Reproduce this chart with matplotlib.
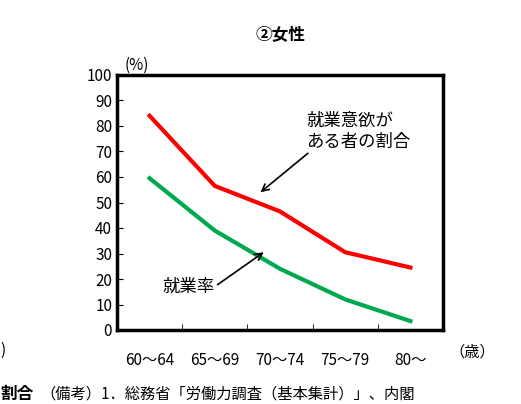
import matplotlib.pyplot as plt

plt.rcParams['font.family'] = ['Noto Sans CJK JP', 'DejaVu Sans']

categories = ['60～64', '65～69', '70～74', '75～79', '80～']
willing = [84, 56.5, 46.5, 30.5, 24.5]
employed = [59.5, 39, 24, 12, 3.5]
yticks = list(range(0, 101, 10))

fig = plt.figure(figsize=(5.21, 4.04), dpi=100)
ax = fig.add_axes([117/521, 1-330/404, 326/521, 255/404])
x = list(range(len(categories)))
ax.plot(x, willing, color='#ff0000', lw=3)
ax.plot(x, employed, color='#00a850', lw=3)
ax.set_xlim(-0.5, 4.5)
ax.set_ylim(0, 100)
ax.set_yticks(yticks)
ax.set_xticks(x)
ax.set_xticklabels(categories, fontsize=11)
ax.set_xticks([0.5, 1.5, 2.5, 3.5], minor=True)
ax.tick_params(axis='x', which='major', length=0, pad=16)
ax.tick_params(axis='x', which='minor', direction='in', length=4)
ax.tick_params(axis='y', direction='in', labelsize=11, length=4)
for s in ax.spines.values():
    s.set_linewidth(2.5)

ax.annotate('就業意欲が\nある者の割合', xy=(1.7, 54), xytext=(2.4, 78),
            fontsize=12.5, ha='left', va='center', linespacing=1.2,
            arrowprops=dict(arrowstyle='->', color='black', lw=1.2,
                            shrinkA=0, shrinkB=0, relpos=(0.05, 0)))
ax.annotate('就業率', xy=(1.75, 30.5), xytext=(0.2, 17),
            fontsize=12.5, ha='left', va='center',
            arrowprops=dict(arrowstyle='->', color='black', lw=1.2,
                            shrinkA=0, shrinkB=0, relpos=(1, 0.5)))

fig.text(280/521, 1-35/404, '②女性', fontsize=12, fontweight='bold', ha='center', va='center')
fig.text(137/521, 1-65/404, '(%)', fontsize=11, ha='center', va='center')
fig.text(472/521, 1-352/404, '（歳）', fontsize=11, ha='center', va='center')
fig.text(0, 1-350/404, ')', fontsize=11, ha='left', va='center')
fig.text(0, 1-394/404, '割合', fontsize=12, fontweight='bold', ha='left', va='center')
fig.text(40/521, 1-394/404, '（備考）1．総務省「労働力調査（基本集計）」、内閣',
         fontsize=11, ha='left', va='center')

fig.savefig('out.png', dpi=100)
